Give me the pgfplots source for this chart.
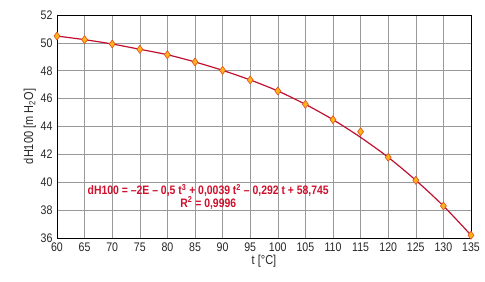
\documentclass[border=0pt]{standalone}
\usepackage{fontspec}
\setmainfont{Liberation Sans}[FakeStretch=0.85]
\usepackage{pgfplots}
\pgfplotsset{compat=1.18}
\definecolor{lred}{HTML}{C01030}
\definecolor{mfill}{HTML}{FFB21E}
\definecolor{medge}{HTML}{E0501A}
\definecolor{tred}{HTML}{D0102C}
\begin{document}
\begin{tikzpicture}
\begin{axis}[
  scale only axis, width=414bp, height=223bp,
  xmin=60, xmax=135, ymin=36, ymax=52,
  xtick={60,65,...,135}, ytick={36,38,...,52},
  grid=major, grid style={draw=gray!80, line width=0.6pt},
  axis line style={black, line width=0.9pt},
  major tick length=0pt,
  tick label style={font=\fontsize{12.5}{13}\selectfont, text=black!85},
  /pgf/number format/assume math mode=true,
  xticklabel style={yshift=-1pt},
  yticklabel style={xshift=-1pt},
  xlabel={t [°C]}, ylabel={dH100 [m H\textsubscript{2}O]},
  label style={font=\fontsize{13}{14}\selectfont, text=black!85},
  xlabel style={yshift=3pt},
  ylabel style={yshift=-2pt},
  clip=false,
]
\addplot[lred, line width=1.2pt, smooth, tension=0.5] coordinates {
(60,50.49) (65,50.23) (70,49.92) (75,49.54) (80,49.15) (85,48.63) (90,48.03)
(95,47.34) (100,46.55) (105,45.59) (110,44.49) (115,43.22) (120,41.79)
(125,40.14) (130,38.30) (135,36.20)};
\addplot[only marks, mark=diamond*, mark size=4pt, mark options={fill=mfill, draw=medge, line width=0.6pt}] coordinates {
(60,50.49) (65,50.23) (70,49.92) (75,49.54) (80,49.15) (85,48.63) (90,48.03)
(95,47.34) (100,46.55) (105,45.59) (110,44.49) (115,43.63) (120,41.79)
(125,40.14) (130,38.30) (135,36.20)};
\node[text=tred, font=\bfseries\fontsize{12.3}{12.5}\selectfont, align=center] at (axis cs:87.4,38.95)
  {dH100 = –2E – 0,5 t\textsuperscript{3} + 0,0039 t\textsuperscript{2} – 0,292 t + 58,745\\R\textsuperscript{2} = 0,9996};
\end{axis}
\path ([shift={(-57bp,-43bp)}]current axis.south west) rectangle ([shift={(14bp,15bp)}]current axis.north east);
\end{tikzpicture}
\end{document}
